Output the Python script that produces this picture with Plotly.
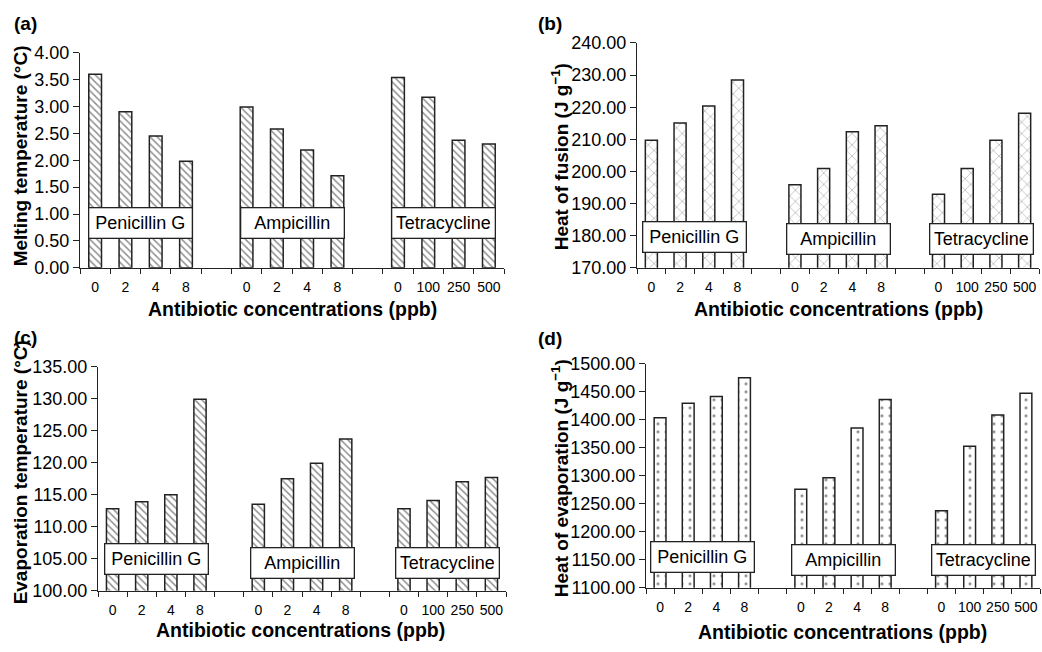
import plotly.graph_objects as go

W, H = 1042, 652

# ---------------- data ----------------
groups = ["Penicillin G", "Ampicillin", "Tetracycline"]
conc_pen = ["0", "2", "4", "8"]
conc_amp = ["0", "2", "4", "8"]
conc_tet = ["0", "100", "250", "500"]

melt_pen = [3.60, 2.90, 2.45, 1.98]
melt_amp = [2.99, 2.58, 2.19, 1.71]
melt_tet = [3.54, 3.17, 2.37, 2.30]

fusion_pen = [209.7, 215.1, 220.4, 228.5]
fusion_amp = [195.9, 200.9, 212.4, 214.2]
fusion_tet = [192.9, 200.9, 209.7, 218.1]

evapT_pen = [112.8, 113.9, 115.0, 129.9]
evapT_amp = [113.5, 117.5, 119.9, 123.7]
evapT_tet = [112.8, 114.1, 117.0, 117.7]

evapH_pen = [1403.5, 1429.5, 1441.6, 1475.1]
evapH_amp = [1275.7, 1296.5, 1385.5, 1436.4]
evapH_tet = [1237.6, 1352.6, 1408.7, 1447.4]

FONT = "Liberation Sans, Arial, Helvetica, sans-serif"
INK = "#222222"

# panel geometry in pixels: (x0, x1, ytop, ybottom)
panels = [
    dict(name="(a)", geom=(80, 504, 44, 266), rng=(0, 4), dtick=0.5,
         vals=[melt_pen, melt_amp, melt_tet], shape="\\", psize=5, psol=0.3,
         ytitle="Melting temperature (°C)", ytx=20, yty=151,
         xtx=292, xty=308, lab=(25, 14), box_y=[220, 220, 220]),
    dict(name="(b)", geom=(637, 1039, 34, 266), rng=(170, 240), dtick=10,
         vals=[fusion_pen, fusion_amp, fusion_tet], shape="x", psize=8, psol=0.12,
         ytitle="Heat of fusion (J g<sup>−1</sup>)", ytx=560, yty=152,
         xtx=838, xty=308, lab=(550, 14), box_y=[234, 236, 236]),
    dict(name="(c)", geom=(98, 506, 368, 599), rng=(100, 135), dtick=5,
         vals=[evapT_pen, evapT_amp, evapT_tet], shape="\\", psize=5, psol=0.3,
         ytitle="Evaporation temperature (°C)", ytx=20, yty=477,
         xtx=300, xty=640, lab=(25, 338), box_y=[566, 570, 570]),
    dict(name="(d)", geom=(646, 1040, 365, 596), rng=(1100, 1500), dtick=50,
         vals=[evapH_pen, evapH_amp, evapH_tet], shape=".", psize=8, psol=0.12,
         ytitle="Heat of evaporation (J g<sup>−1</sup>)", ytx=560, yty=483,
         xtx=842, xty=642, lab=(550, 339), box_y=[564, 567, 567]),
]

labels_all = conc_pen + conc_amp + conc_tet
# slot positions: 4 bars, one empty slot, 4 bars, one empty slot, 4 bars
xpos = [g * 5 + i for g in range(3) for i in range(4)]
group_centers = [g * 5 + 1.5 for g in range(3)]
boundaries = [k - 0.5 for k in range(15)]

fig = go.Figure()
layout = dict(width=W, height=H, margin=dict(l=0, r=0, t=0, b=0),
              paper_bgcolor="white", plot_bgcolor="white", showlegend=False,
              font=dict(family=FONT, color="black"))
annotations = []

for idx, p in enumerate(panels):
    n = idx + 1
    xa = "x" if n == 1 else f"x{n}"
    ya = "y" if n == 1 else f"y{n}"
    x0, x1, yt, yb = p["geom"]
    yvals = p["vals"][0] + p["vals"][1] + p["vals"][2]
    fig.add_trace(go.Bar(
        x=xpos, y=yvals, width=0.42, xaxis=xa, yaxis=ya,
        marker=dict(color="white", line=dict(color=INK, width=1.5),
                    pattern=dict(shape=p["shape"], fgcolor=INK, bgcolor="white",
                                 size=p["psize"], solidity=p["psol"])),
        hoverinfo="x+y"))
    xkey = "xaxis" if n == 1 else f"xaxis{n}"
    ykey = "yaxis" if n == 1 else f"yaxis{n}"
    layout[xkey] = dict(
        domain=[x0 / W, x1 / W], anchor=ya, range=[-0.5, 13.5],
        tickmode="array", tickvals=xpos, ticktext=labels_all,
        ticks="outside", ticklen=6, tickcolor="rgba(0,0,0,0)",
        tickfont=dict(size=14, family=FONT, color="black"),
        showline=True, linecolor=INK, linewidth=1.3, showgrid=False, zeroline=False,
        minor=dict(tickmode="array", tickvals=boundaries, ticks="outside",
                   ticklen=5, tickwidth=1.2, tickcolor=INK, showgrid=False),
        fixedrange=True)
    layout[ykey] = dict(
        domain=[1 - yb / H, 1 - yt / H], anchor=xa, range=list(p["rng"]),
        tickmode="linear", tick0=p["rng"][0], dtick=p["dtick"], tickformat=".2f",
        ticks="outside", ticklen=6, tickwidth=1.2, tickcolor=INK,
        tickfont=dict(size=18, family=FONT, color="black"),
        showline=True, linecolor=INK, linewidth=1.3, showgrid=False, zeroline=False,
        fixedrange=True)
    # y title
    annotations.append(dict(xref="paper", yref="paper", x=p["ytx"] / W, y=1 - p["yty"] / H,
                            text=f"<b>{p['ytitle']}</b>", textangle=-90, showarrow=False,
                            xanchor="center", yanchor="middle",
                            font=dict(size=19, family=FONT, color="black")))
    # x title
    annotations.append(dict(xref="paper", yref="paper", x=p["xtx"] / W, y=1 - p["xty"] / H,
                            text="<b>Antibiotic concentrations (ppb)</b>", showarrow=False,
                            xanchor="center", yanchor="middle",
                            font=dict(size=19.5, family=FONT, color="black")))
    # panel label
    annotations.append(dict(xref="paper", yref="paper", x=p["lab"][0] / W, y=1 - p["lab"][1] / H,
                            text=f"<b>{p['name']}</b>", showarrow=False,
                            xanchor="center", yanchor="middle",
                            font=dict(size=19, family=FONT, color="black")))
    # group label boxes
    for g, gname in enumerate(groups):
        annotations.append(dict(xref=xa, yref="paper", x=group_centers[g],
                                y=1 - p["box_y"][g] / H, text=gname, showarrow=False,
                                xanchor="center", yanchor="middle",
                                width=94, height=21, borderpad=4,
                                bgcolor="white", bordercolor=INK, borderwidth=1.3,
                                font=dict(size=18, family=FONT, color="black")))

layout["annotations"] = annotations
fig.update_layout(**layout)
fig.write_html("out.html", config={"displayModeBar": False},
               post_script="document.body.style.margin='0px';document.body.style.overflow='hidden';")
